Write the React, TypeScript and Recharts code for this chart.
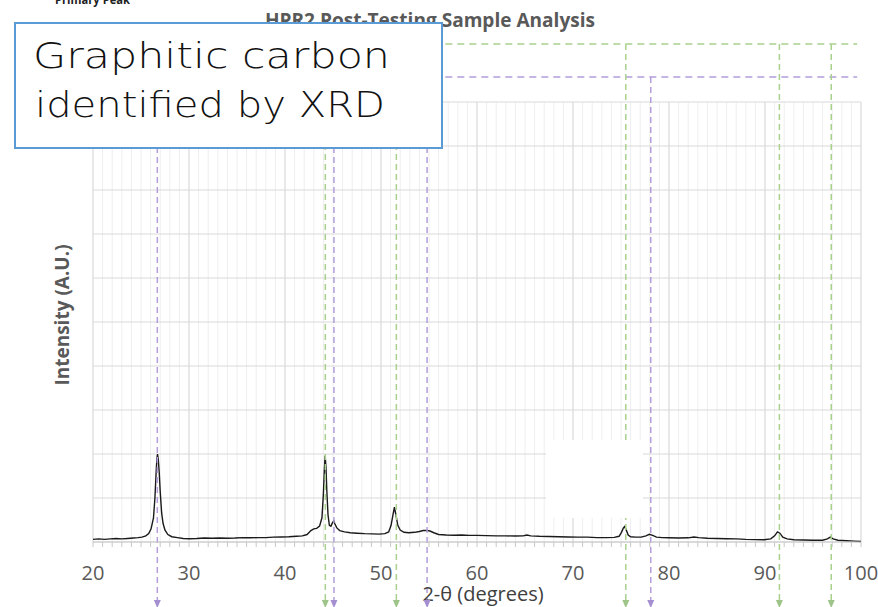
import { LineChart, Line, XAxis, YAxis, CartesianGrid, ReferenceLine, ReferenceDot, Label } from 'recharts';

// 2-theta positions (degrees) and intensity (A.U.)
const twoTheta = [
  20.0, 20.6, 21.2, 21.8, 22.4, 23.0, 23.6, 24.2, 24.7, 25.1,
  25.5, 25.8, 26.05, 26.3, 26.45, 26.58, 26.66, 26.72, 26.8, 26.9,
  27.0, 27.15, 27.3, 27.5, 27.8, 28.2, 28.8, 29.4, 30.0, 30.8,
  31.6, 32.4, 33.2, 34.0, 34.8, 35.6, 36.4, 37.2, 38.0, 38.8,
  39.6, 40.4, 41.2, 41.8, 42.3, 42.7, 43.0, 43.3, 43.6, 43.85,
  44.0, 44.1, 44.18, 44.27, 44.36, 44.48, 44.62, 44.78, 44.95, 45.08,
  45.2, 45.4, 45.7, 46.2, 46.8, 47.5, 48.3, 49.1, 49.8, 50.4,
  50.8, 51.05, 51.25, 51.4, 51.55, 51.75, 52.0, 52.4, 52.9, 53.5,
  54.0, 54.4, 54.75, 55.1, 55.5, 56.0, 56.8, 57.6, 58.4, 59.2,
  60.0, 61.0, 62.0, 63.0, 64.0, 64.8, 65.2, 65.6, 66.5, 67.5,
  68.5, 69.5, 70.5, 71.5, 72.5, 73.5, 74.3, 74.8, 75.05, 75.25,
  75.38, 75.55, 75.75, 76.0, 76.5, 77.1, 77.6, 77.95, 78.3, 78.7,
  79.3, 80.0, 81.0, 82.0, 82.6, 83.1, 84.0, 85.0, 86.0, 87.0,
  88.0, 89.0, 89.9, 90.6, 91.0, 91.3, 91.55, 91.85, 92.3, 93.0,
  94.0, 95.0, 96.0, 96.5, 96.8, 97.1, 97.6, 98.5, 99.3, 100.0,
];

const intensity = [
  0.06, 0.07, 0.06, 0.07, 0.08, 0.07, 0.08, 0.09, 0.10, 0.11,
  0.14, 0.19, 0.30, 0.55, 1.00, 1.60, 1.90, 2.00, 1.88, 1.58,
  1.15, 0.66, 0.42, 0.27, 0.17, 0.12, 0.10, 0.08, 0.075, 0.08,
  0.09, 0.085, 0.09, 0.085, 0.09, 0.10, 0.095, 0.10, 0.10, 0.11,
  0.115, 0.12, 0.13, 0.14, 0.17, 0.26, 0.30, 0.31, 0.36, 0.55,
  1.10, 1.65, 1.96, 1.70, 1.15, 0.62, 0.38, 0.36, 0.44, 0.48,
  0.41, 0.32, 0.26, 0.23, 0.21, 0.20, 0.19, 0.185, 0.18, 0.19,
  0.23, 0.38, 0.62, 0.79, 0.62, 0.38, 0.27, 0.22, 0.21, 0.22,
  0.24, 0.26, 0.265, 0.25, 0.21, 0.17, 0.16, 0.155, 0.16, 0.15,
  0.15, 0.145, 0.14, 0.14, 0.135, 0.14, 0.16, 0.14, 0.13, 0.125,
  0.12, 0.115, 0.11, 0.11, 0.10, 0.10, 0.105, 0.13, 0.22, 0.32,
  0.35, 0.27, 0.16, 0.12, 0.11, 0.11, 0.14, 0.175, 0.15, 0.11,
  0.10, 0.095, 0.09, 0.095, 0.115, 0.10, 0.085, 0.08, 0.075, 0.07,
  0.06, 0.055, 0.05, 0.07, 0.14, 0.23, 0.20, 0.11, 0.07, 0.05,
  0.045, 0.04, 0.04, 0.07, 0.11, 0.07, 0.04, 0.03, 0.02, 0.01,
];

const majorTicks = [20, 30, 40, 50, 60, 70, 80, 90, 100];
const minorTicks = Array.from({ length: 81 }, (_, i) => 20 + i);
const yTicks = [0, 1, 2, 3, 4, 5, 6, 7, 8, 9, 10];

// reference peak positions
const carbonPeaks = [26.7, 45.1, 54.8, 78.1];
const nickelPeaks = [44.2, 51.6, 75.5, 91.5, 96.9];

// levels of the marker lines (in intensity units, outside the plot)
const greenTop = 11.32;
const purpleTop = 10.57;
const arrowLevel = -1.32;
const markerEnd = 99.6;

const data = twoTheta.map((t, i) => ({ t, v: intensity[i] }));

const PURPLE = '#b39ddb';
const GREEN = '#a9d18e';
const FONT = '"Open Sans", "DejaVu Sans", sans-serif';

const XTick = (props: any) => {
  const { x, y, payload } = props;
  if (payload.value % 10 !== 0) return null;
  return (
    <text x={x} y={y + 31} textAnchor="middle" fill="#595959" fontSize={20} fontFamily={FONT}>
      {payload.value}
    </text>
  );
};

const XTitle = (props: any) => {
  const vb = props.viewBox;
  return (
    <text x={vb.x + vb.width / 2 + 6} y={vb.y + 59} textAnchor="middle" fill="#404040" fontSize={20} fontFamily={FONT}>
      2-θ (degrees)
    </text>
  );
};

const YTitle = (props: any) => {
  const vb = props.viewBox;
  const cx = vb.x + vb.width - 31;
  const cy = vb.y + vb.height / 2 - 7;
  return (
    <text
      x={cx}
      y={cy}
      transform={`rotate(-90 ${cx} ${cy})`}
      textAnchor="middle"
      dominantBaseline="central"
      fill="#595959"
      fontSize={19}
      fontWeight={700}
      fontFamily={FONT}
    >
      Intensity (A.U.)
    </text>
  );
};

const arrow = (color: string) => (props: any) => {
  const { cx, cy } = props;
  return <path d={`M${cx - 3.5},${cy} L${cx + 3.5},${cy} L${cx},${cy + 8} Z`} fill={color} />;
};

export default function App() {
  return (
    <div style={{ position: 'relative', width: 878, height: 607, background: '#fff' }}>
      <style>{'body{margin:0}'}</style>
      <LineChart width={878} height={607} data={data} margin={{ top: 102, right: 17, left: 0, bottom: 0 }}>
        <CartesianGrid stroke="#eeeeee" horizontal={false} />
        <XAxis
          dataKey="t"
          type="number"
          domain={[20, 100]}
          ticks={minorTicks}
          interval={0}
          height={65}
          tick={<XTick />}
          tickSize={5}
          tickLine={{ stroke: '#c8c8c8' }}
          axisLine={{ stroke: '#c8c8c8' }}
        >
          <Label content={<XTitle />} />
        </XAxis>
        <YAxis type="number" domain={[0, 10]} ticks={yTicks} width={93} tick={false} axisLine={false} tickLine={false}>
          <Label content={<YTitle />} />
        </YAxis>
        {yTicks.map((v) => (
          <ReferenceLine key={'h' + v} y={v} stroke="#d9d9d9" />
        ))}
        {majorTicks.map((v) => (
          <ReferenceLine key={'v' + v} x={v} stroke="#d9d9d9" />
        ))}
        <ReferenceLine
          segment={[{ x: nickelPeaks[0], y: greenTop }, { x: markerEnd, y: greenTop }]}
          ifOverflow="visible"
          stroke={GREEN}
          strokeWidth={1.5}
          strokeDasharray="7 5"
        />
        <ReferenceLine
          segment={[{ x: carbonPeaks[0], y: purpleTop }, { x: markerEnd, y: purpleTop }]}
          ifOverflow="visible"
          stroke={PURPLE}
          strokeWidth={1.5}
          strokeDasharray="7 5"
        />
        <Line type="linear" dataKey="v" stroke="#1a1a1a" strokeWidth={1.4} dot={false} isAnimationActive={false} />
        {nickelPeaks.map((p) => (
          <ReferenceLine
            key={'n' + p}
            segment={[{ x: p, y: greenTop }, { x: p, y: arrowLevel }]}
            ifOverflow="visible"
            stroke={GREEN}
            strokeWidth={1.5}
            strokeDasharray="6 4"
          />
        ))}
        {carbonPeaks.map((p) => (
          <ReferenceLine
            key={'c' + p}
            segment={[{ x: p, y: purpleTop }, { x: p, y: arrowLevel }]}
            ifOverflow="visible"
            stroke={PURPLE}
            strokeWidth={1.5}
            strokeDasharray="6 4"
          />
        ))}
        {nickelPeaks.map((p) => (
          <ReferenceDot key={'na' + p} x={p} y={arrowLevel} ifOverflow="visible" shape={arrow('#9fc48a')} />
        ))}
        {carbonPeaks.map((p) => (
          <ReferenceDot key={'ca' + p} x={p} y={arrowLevel} ifOverflow="visible" shape={arrow('#a58fd0')} />
        ))}
      </LineChart>
      <svg width={878} height={607} style={{ position: 'absolute', left: 0, top: 0, pointerEvents: 'none' }}>
        <text x={55} y={4} fontSize={12} fontWeight={700} fill="#222" fontFamily={FONT} textLength={75} lengthAdjust="spacingAndGlyphs">
          Primary Peak
        </text>
        <text x={265} y={27} fontSize={19} fontWeight={700} fill="#595959" fontFamily={FONT} textLength={330} lengthAdjust="spacingAndGlyphs">
          HPR2 Post-Testing Sample Analysis
        </text>
        <rect x={546} y={440} width={97} height={78} fill="#fff" />
        <rect x={15} y={23} width={427} height={125} fill="#fff" stroke="#5b9bd5" strokeWidth={2} />
        <text x={33} y={68} fontSize={36} fontWeight={300} fill="#111" fontFamily='"DejaVu Sans", sans-serif' textLength={357} lengthAdjust="spacingAndGlyphs">
          Graphitic carbon
        </text>
        <text x={35} y={117} fontSize={36} fontWeight={300} fill="#111" fontFamily='"DejaVu Sans", sans-serif' textLength={350} lengthAdjust="spacingAndGlyphs">
          identified by XRD
        </text>
      </svg>
    </div>
  );
}
